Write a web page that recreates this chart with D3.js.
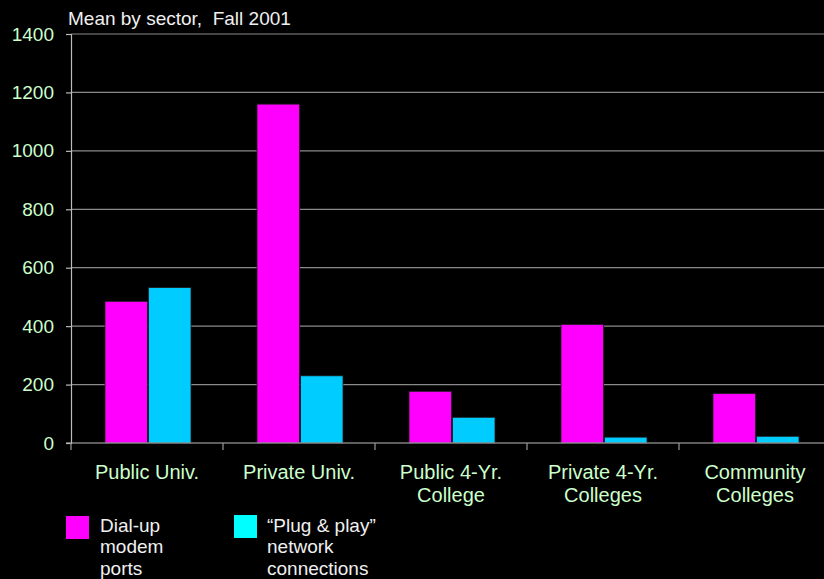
<!DOCTYPE html>
<html><head><meta charset="utf-8">
<script src="https://cdn.jsdelivr.net/npm/d3@7"></script>
<style>html,body{margin:0;padding:0;background:#000;overflow:hidden} text{white-space:pre}</style>
</head><body>
<svg id="chart" width="824" height="579"></svg>
<script>
const categories = [["Public Univ."], ["Private Univ."], ["Public 4-Yr.", "College"], ["Private 4-Yr.", "Colleges"], ["Community", "Colleges"]];
const dialUp = [485, 1160, 177, 406, 169];
const plugPlay = [532, 230, 88, 20, 23];
const seriesNames = [["Dial-up", "modem", "ports"], ["\u201CPlug & play\u201D", "network", "connections"]];
const yTicks = [0, 200, 400, 600, 800, 1000, 1200, 1400];
const title = "Mean by sector,  Fall 2001";

(function () {
const svg = d3.select("#chart");
const font = "'Liberation Sans', Arial, sans-serif";
const plotLeft = 71, plotTop = 34, plotBottom = 443, bandW = 152;
const catKeys = categories.map((c, i) => i);
const x0 = d3.scaleBand().domain(catKeys).range([plotLeft, plotLeft + bandW * categories.length]).padding(0);
const x1 = d3.scaleBand().domain([0, 1]).range([34, 120]).paddingInner(0.02);
const y = d3.scaleLinear().domain([0, 1400]).range([plotBottom, plotTop]);
const colors = ["#FF00FF", "#00CCFF"];
const legendColors = ["#FF00FF", "#00FFFF"];

svg.append("rect").attr("width", 824).attr("height", 579).attr("fill", "#000");

// gridlines
svg.append("g").selectAll("line").data(yTicks.filter(t => t > 0)).join("line")
  .attr("x1", plotLeft).attr("x2", 824).attr("y1", d => y(d)).attr("y2", d => y(d))
  .attr("stroke", "#8a8a8a").attr("stroke-width", 1.2);

// bars
const series = [dialUp, plugPlay];
series.forEach((vals, s) => {
  svg.append("g").selectAll("rect").data(vals).join("rect")
    .attr("x", (d, i) => x0(i) + x1(s))
    .attr("width", x1.bandwidth())
    .attr("y", d => y(d))
    .attr("height", d => y(0) - y(d))
    .attr("fill", colors[s])
    .attr("stroke", "#1a1a1a").attr("stroke-width", 0.8);
});

// y axis
const yAxis = d3.axisLeft(y).tickValues(yTicks).tickFormat(d3.format("d")).tickSize(5).tickPadding(12);
const gy = svg.append("g").attr("transform", `translate(${plotLeft},0)`).call(yAxis);
gy.select(".domain").attr("stroke", "#bbb").attr("stroke-width", 1.2);
gy.selectAll(".tick line").attr("stroke", "#bbb").attr("stroke-width", 1.2);
gy.selectAll(".tick text").attr("fill", "#CCFFCC").attr("font-size", 19).attr("font-family", font);

// x axis
const gx = svg.append("g").attr("transform", `translate(0,${plotBottom})`);
gx.append("line").attr("x1", plotLeft - 5).attr("x2", 824).attr("y1", 0).attr("y2", 0).attr("stroke", "#bbb").attr("stroke-width", 1.2);
gx.selectAll("line.t").data(catKeys).join("line").attr("class", "t")
  .attr("x1", d => x0(d)).attr("x2", d => x0(d)).attr("y1", 0).attr("y2", 7)
  .attr("stroke", "#999").attr("stroke-width", 1.2);
categories.forEach((lines, i) => {
  const t = svg.append("text").attr("text-anchor", "middle").attr("fill", "#CCFFCC")
    .attr("font-size", 20).attr("font-family", font);
  lines.forEach((ln, j) => {
    t.append("tspan").attr("x", x0(i) + bandW / 2).attr("y", 478.5 + j * 23.5).text(ln);
  });
});

// title
svg.append("text").attr("x", 68).attr("y", 25).attr("fill", "#f0f0f0")
  .attr("font-size", 19).attr("font-family", font).text(title);

// legend
const legX = [66, 234], legTextX = [100, 267];
seriesNames.forEach((lines, s) => {
  svg.append("rect").attr("x", legX[s]).attr("y", 516 - s).attr("width", 23).attr("height", 23)
    .attr("fill", legendColors[s]);
  const t = svg.append("text").attr("fill", "#f0f0f0").attr("font-size", 19).attr("font-family", font);
  lines.forEach((ln, j) => {
    t.append("tspan").attr("x", legTextX[s]).attr("y", 531.5 + j * 21.8).text(ln);
  });
});
})();
</script>
</body></html>
